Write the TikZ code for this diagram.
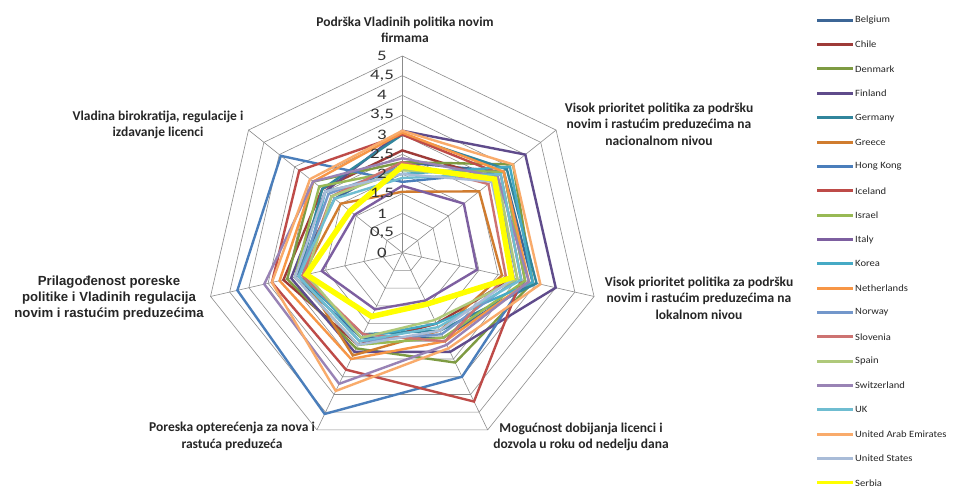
\documentclass[tikz,border=0pt]{standalone}
\usepackage{fontspec}
\setmainfont{Carlito}
\newfontfamily\catfont{Carlito}
\newfontfamily\bigcatfont{Liberation Sans}
\newfontfamily\tickfont[FakeStretch=1.3]{Carlito}
\newfontfamily\legfont[FakeStretch=1.1]{Carlito}

% series colours
\definecolor{cBelgium}{HTML}{3C6696}
\definecolor{cChile}{HTML}{9E3B38}
\definecolor{cDenmark}{HTML}{7E9B42}
\definecolor{cFinland}{HTML}{5F4B8B}
\definecolor{cGermany}{HTML}{31859C}
\definecolor{cGreece}{HTML}{D07C2F}
\definecolor{cHongKong}{HTML}{4A7EBB}
\definecolor{cIceland}{HTML}{BE4B48}
\definecolor{cIsrael}{HTML}{98B954}
\definecolor{cItaly}{HTML}{7D5FA0}
\definecolor{cKorea}{HTML}{46AAC5}
\definecolor{cNetherlands}{HTML}{F79646}
\definecolor{cNorway}{HTML}{7397CB}
\definecolor{cSlovenia}{HTML}{CD7371}
\definecolor{cSpain}{HTML}{AFC97A}
\definecolor{cSwitzerland}{HTML}{9983B5}
\definecolor{cUK}{HTML}{6FBDD1}
\definecolor{cUAE}{HTML}{F9AB6B}
\definecolor{cUS}{HTML}{A9BCD8}
\definecolor{cSerbia}{HTML}{FFFF00}
\definecolor{gridgray}{HTML}{8C8C8C}

\tikzset{
  gridline/.style={draw=gridgray, line width=0.6pt},
  seriesline/.style={line width=2.4pt},
  serbialine/.style={line width=5.5pt},
  catlabel/.style={font=\catfont\bfseries\fontsize{13.5}{16.5}\selectfont, align=center, inner sep=0pt, text=black!85},
  bigcatlabel/.style={font=\bigcatfont\bfseries\fontsize{13.2}{16}\selectfont, align=center, inner sep=0pt, text=black!85},
  ticklabel/.style={font=\tickfont\fontsize{14.5}{15}\selectfont, inner sep=0pt, text=black!80},
  legtext/.style={font=\legfont\fontsize{9.6}{12}\selectfont, anchor=west, inner sep=0pt, text=black!85},
  legline/.style={line width=3pt},
}

\begin{document}
\begin{tikzpicture}[x=1pt, y=1pt]
\useasboundingbox (0,0) rectangle (955,489);
\fill[white] (0,0) rectangle (955,489);

\begin{scope}[shift={(402.3,236.3)}]
  % rings 0.5 .. 5
  \foreach \v in {0.5,1,...,5}{
    \draw[gridline] (90:\v*39.34)
      \foreach \k in {1,...,6}{ -- (90-\k*51.4286:\v*39.34) } -- cycle;
  }
  % spokes
  \foreach \k in {0,...,6}{
    \coordinate (spoke\k) at (90-\k*51.4286:196.7);
    \draw[gridline] (0,0) -- (spoke\k);
  }
  % series polygons: axis values in clockwise order from the top spoke
  \foreach \cname/\a/\b/\c/\d/\e/\f/\g in {
    Belgium/2.3/3.3/3.4/2.4/2.4/2.8/2.2,
    Chile/2.6/3.0/2.9/2.0/2.6/3.1/2.6,
    Denmark/2.3/3.6/3.4/3.1/2.7/3.0/2.9,
    Finland/3.1/4.0/4.0/2.8/2.8/2.9/2.5,
    Germany/3.0/3.4/3.5/2.2/2.3/2.7/2.6,
    Greece/1.55/2.5/2.6/2.2/2.9/2.6/2.0,
    HongKong/1.8/3.3/3.2/3.5/4.55/4.3/3.95,
    Iceland/3.0/3.2/3.1/4.2/3.3/3.4/3.35,
    Israel/2.1/3.3/3.2/2.4/2.6/2.8/2.7,
    Italy/1.7/2.0/1.95/1.35/1.6/2.1/1.55,
    Korea/2.0/3.5/3.4/2.0/2.4/2.6/2.5,
    Netherlands/3.05/3.3/3.3/2.5/3.0/3.2/2.9,
    Norway/2.2/3.0/3.0/2.3/2.5/2.7/2.4,
    Slovenia/2.3/2.8/2.7/2.5/2.3/2.6/2.3,
    Spain/2.1/3.1/3.0/1.9/2.4/2.5/2.3,
    Switzerland/2.4/3.1/3.3/2.6/3.7/3.6/2.9,
    UK/1.9/3.2/3.1/2.1/2.5/2.7/2.2,
    UAE/3.1/3.6/3.6/2.7/3.9/3.4/3.0,
    US/2.0/2.9/2.9/2.2/2.6/2.8/2.5}{
    \draw[seriesline, draw=c\cname]
      (90:\a*39.34) -- (38.5714:\b*39.34) -- (-12.8571:\c*39.34)
      -- (-64.2857:\d*39.34) -- (-115.7143:\e*39.34)
      -- (-167.1429:\f*39.34) -- (-218.5714:\g*39.34) -- cycle;
  }
  \draw[serbialine, draw=cSerbia]
      (90:2.2*39.34) -- (38.5714:3.0*39.34) -- (-12.8571:2.85*39.34)
      -- (-64.2857:1.45*39.34) -- (-115.7143:1.8*39.34)
      -- (-167.1429:2.5*39.34) -- (-218.5714:1.7*39.34) -- cycle;
\end{scope}

% value labels along the top spoke
\foreach \v/\t [count=\i] in {0/0,0.5/{0,5},1/1,1.5/{1,5},2/2,2.5/{2,5},3/3,3.5/{3,5},4/4,4.5/{4,5},5/5}{
  \node[ticklabel] (tick\i) at (382,236.3+\v*39.34) {\t};
}

% category labels
\node[catlabel] (lab0) at (405,459) {Podrška Vladinih politika novim\\firmama};
\node[catlabel] (lab1) at (659,365) {Visok prioritet politika za podršku\\novim i rastućim preduzećima na\\nacionalnom nivou};
\node[catlabel] (lab2) at (699,190.7) {Visok prioritet politika za podršku\\novim i rastućim preduzećima na\\lokalnom nivou};
\node[catlabel] (lab3) at (581,52) {Mogućnost dobijanja licenci i\\dozvola u roku od nedelju dana};
\node[catlabel] (lab4) at (232,52.5) {Poreska opterećenja za nova i\\rastuća preduzeća};
\node[bigcatlabel] (lab5) at (109,191) {Prilagođenost poreske\\politike i Vladinih regulacija\\novim i rastućim preduzećima};
\node[catlabel] (lab6) at (158,364) {Vladina birokratija, regulacije i\\izdavanje licenci};

% legend
\foreach \cname/\txt [count=\i] in {Belgium/Belgium, Chile/Chile, Denmark/Denmark, Finland/Finland,
  Germany/Germany, Greece/Greece, HongKong/Hong Kong, Iceland/Iceland, Israel/Israel, Italy/Italy,
  Korea/Korea, Netherlands/Netherlands, Norway/Norway, Slovenia/Slovenia, Spain/Spain,
  Switzerland/Switzerland, UK/UK, UAE/United Arab Emirates, US/United States, Serbia/Serbia}{
  \coordinate (legA\i) at (817,489-20.3-\i*24.35+24.35);
  \coordinate (legB\i) at (853,489-20.3-\i*24.35+24.35);
  \draw[legline, draw=c\cname] (legA\i) -- (legB\i);
  \node[legtext] (leg\i) at ([xshift=2pt]legB\i) {\txt};
}
\end{tikzpicture}
\end{document}
